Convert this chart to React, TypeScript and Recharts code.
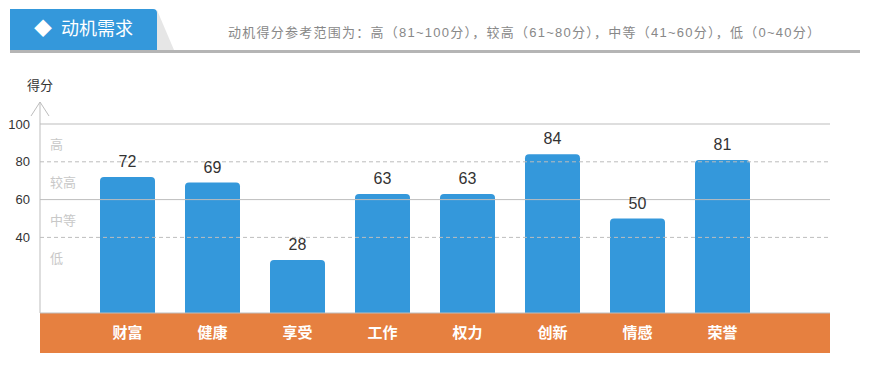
import React from 'react'
import { BarChart, Bar, XAxis, YAxis, ReferenceLine, LabelList } from 'recharts'

const categories = ['财富', '健康', '享受', '工作', '权力', '创新', '情感', '荣誉']
const scores = [72, 69, 28, 63, 63, 84, 50, 81]
const yTicks = [40, 60, 80, 100]
// level names sit in the middle of their score band
const levels = [
  { name: '高', mid: 89 },
  { name: '较高', mid: 69 },
  { name: '中等', mid: 49 },
  { name: '低', mid: 29 },
]
const gridLines = [
  { value: 100, dashed: false },
  { value: 80, dashed: true },
  { value: 60, dashed: false },
  { value: 40, dashed: true },
]

const data = categories.map((name, i) => ({ name, score: scores[i] }))

const FONT = '"Liberation Sans", Arial, "Noto Sans CJK SC", sans-serif'
const BLUE = '#3498db'
const ORANGE = '#e68040'
const AXIS = '#bdbdbd'

// arrow on top of y axis + the "得分" caption
const AxisArrow = (props: any) => {
  const { viewBox } = props
  const ax = viewBox.x + viewBox.width
  const top = viewBox.y
  return (
    <g>
      <line x1={ax} y1={top} x2={ax} y2={top - 22} stroke={AXIS} />
      <polyline points={`${ax - 9},${top - 8} ${ax},${top - 22} ${ax + 9},${top - 8}`} fill="none" stroke={AXIS} />
      <text x={ax} y={top - 34} textAnchor="middle" fontSize={13} fill="#333" fontFamily={FONT}>得分</text>
    </g>
  )
}

const CategoryTick = (props: any) => {
  const { x, y, payload } = props
  return (
    <text x={x} y={y + 17} textAnchor="middle" fontSize={15} fontWeight="bold" fill="#fff" fontFamily={FONT}>
      {payload.value}
    </text>
  )
}

export default function App() {
  return (
    <div style={{ position: 'absolute', left: 0, top: 0, width: 877, height: 365, background: '#fff', fontFamily: FONT }}>
      {/* header */}
      <div style={{ position: 'absolute', left: 10, top: 9, width: 147, height: 41, background: BLUE, borderTopRightRadius: 4, color: '#fff', fontSize: 18, lineHeight: '41px' }}>
        <span style={{ marginLeft: 24 }}>◆</span>
        <span style={{ marginLeft: 9 }}>动机需求</span>
      </div>
      <svg style={{ position: 'absolute', left: 0, top: 0 }} width={200} height={60}>
        <polygon points="157,10 174,50 157,50" fill="#e6e6e6" />
      </svg>
      <div style={{ position: 'absolute', left: 10, top: 50, width: 850, height: 3, background: '#b5b5b5' }} />
      <div style={{ position: 'absolute', left: 228, top: 22, fontSize: 13, color: '#888', whiteSpace: 'nowrap', letterSpacing: 1.25 }}>
        动机得分参考范围为：高（81~100分），较高（61~80分），中等（41~60分），低（0~40分）
      </div>

      {/* orange category band */}
      <div style={{ position: 'absolute', left: 40, top: 313, width: 790, height: 40, background: ORANGE }} />

      <div style={{ position: 'absolute', left: 0, top: 0 }}>
        <BarChart width={877} height={365} data={data} margin={{ top: 124, right: 47, bottom: 12, left: 8 }}>
          <XAxis
            dataKey="name"
            height={40}
            padding={{ left: 45, right: 65 }}
            axisLine={{ stroke: AXIS }}
            tickLine={false}
            tick={<CategoryTick />}
            interval={0}
          />
          <YAxis
            width={32}
            domain={[0, 100]}
            ticks={yTicks}
            tickLine={false}
            tickMargin={4}
            axisLine={{ stroke: AXIS }}
            tick={{ fontSize: 13, fill: '#333', fontFamily: FONT }}
            label={<AxisArrow />}
          />
          {gridLines.map((g) => (
            <ReferenceLine key={g.value} y={g.value} stroke={AXIS} strokeDasharray={g.dashed ? '4 3' : undefined} />
          ))}
          {levels.map((l) => (
            <ReferenceLine
              key={l.name}
              y={l.mid}
              strokeOpacity={0}
              label={{ value: l.name, position: 'insideLeft', offset: 10, fill: '#c8c8c8', fontSize: 13, fontFamily: FONT }}
            />
          ))}
          <Bar dataKey="score" fill={BLUE} barSize={55} radius={[4, 4, 0, 0]} isAnimationActive={false}>
            <LabelList dataKey="score" position="top" offset={10} fill="#333" fontSize={16} fontFamily={FONT} />
          </Bar>
        </BarChart>
      </div>
    </div>
  )
}
